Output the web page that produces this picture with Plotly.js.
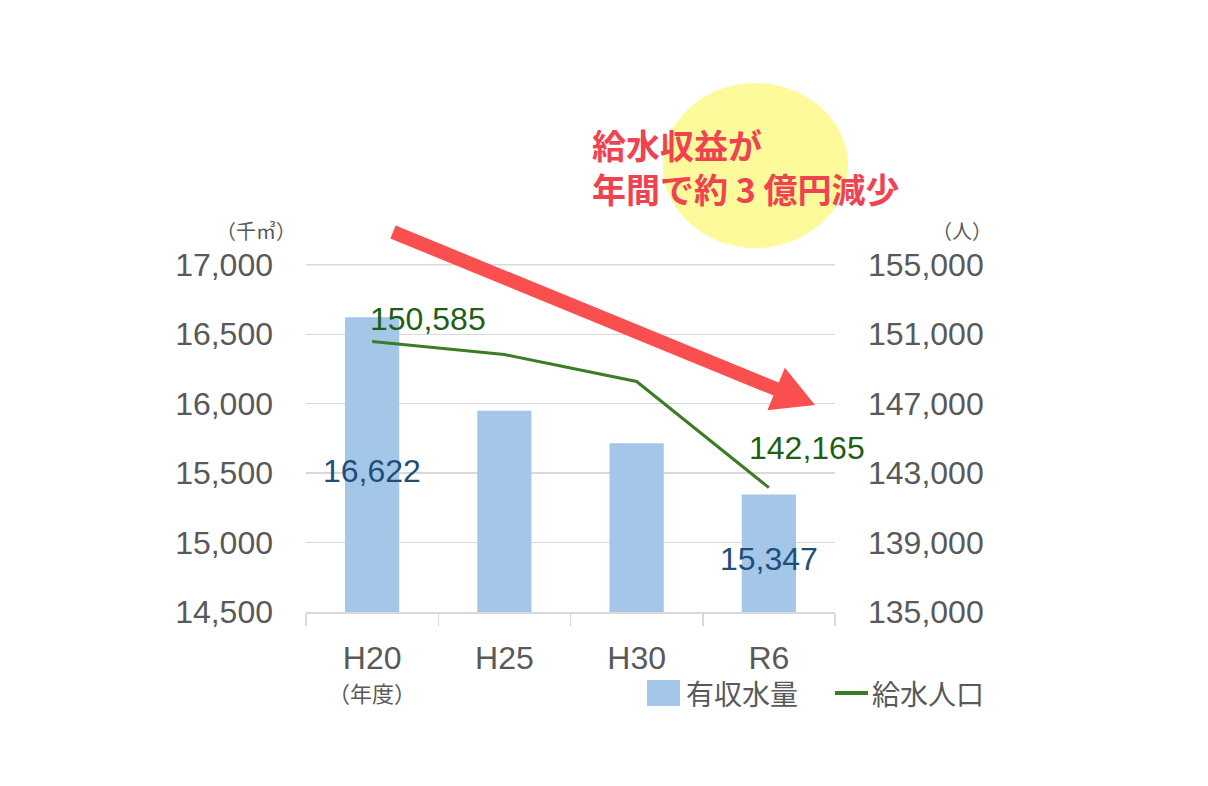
<!DOCTYPE html>
<html>
<head>
<meta charset="utf-8">
<script src="https://cdn.plot.ly/plotly-3.0.1.min.js"></script>
<style>
  html, body { margin: 0; padding: 0; background: #ffffff; }
  #chart { width: 1208px; height: 786px; }
</style>
</head>
<body>
<div id="chart"></div>
<script>
// data
var years = ['H20', 'H25', 'H30', 'R6'];
var waterVolume = [16622, 15950, 15715, 15347];      // 有収水量 (千㎥)
var population = [150585, 149830, 148280, 142165];   // 給水人口 (人)
var volumeName = '有収水量';
var popName = '給水人口';
var labelledVolume = [0, 3];
var labelledPop = [0, 3];

// plot area in pixels
var L = 306, R = 835, T = 264, B = 612;
function px(x) { return (x - L) / (R - L); }
function py(y) { return (B - y) / (B - T); }

var grey = '#595959';
var green = '#3a7d22';
var blueText = '#1f4e79';
var greenText = '#1e5f14';
var latin = 'Liberation Sans, Arial, sans-serif';
var cjk = 'Noto Sans CJK JP, sans-serif';

var traces = [
  { x: years, y: waterVolume, type: 'bar', name: volumeName, width: 0.41,
    marker: { color: '#a3c6e9' }, hoverinfo: 'skip' },
  { x: years, y: population, type: 'scatter', mode: 'lines', name: popName, yaxis: 'y2',
    line: { color: green, width: 3 }, hoverinfo: 'skip' }
];

var annotations = [];
labelledVolume.forEach(function (i) {
  annotations.push({ x: years[i], y: (waterVolume[i] + 14500) / 2, xref: 'x', yref: 'y',
    xanchor: 'center', yanchor: 'middle',
    text: waterVolume[i].toLocaleString('en-US'), showarrow: false, yshift: -6,
    font: { family: latin, size: 32, color: blueText } });
});
var popShift = [[56, 22], [38, 40]];
labelledPop.forEach(function (i, k) {
  annotations.push({ x: years[i], y: population[i], xref: 'x', yref: 'y2',
    xanchor: 'center', yanchor: 'middle',
    text: population[i].toLocaleString('en-US'), showarrow: false,
    xshift: popShift[k][0], yshift: popShift[k][1],
    font: { family: latin, size: 32, color: greenText } });
});

// units and notes
function note(x, y, text, size, xanchor) {
  return { x: px(x), y: py(y), xref: 'paper', yref: 'paper', xanchor: xanchor || 'center',
    yanchor: 'middle', text: text, showarrow: false,
    font: { family: cjk, size: size, color: grey } };
}
annotations.push(
  note(256, 230, '（千㎥）', 20),
  note(962, 230, '（人）', 20),
  note(372, 692, '（年度）', 22),
  note(684, 693, volumeName, 28, 'left'),
  note(870, 693, popName, 28, 'left'),
  { x: px(590), y: py(166), xref: 'paper', yref: 'paper', xanchor: 'left', yanchor: 'middle',
    align: 'left', text: '<b>給水収益が<br>年間で約 3 億円減少</b>', showarrow: false,
    font: { family: cjk, size: 34, color: '#ef4350' } }
);

// red arrow geometry
var tail = [393, 232], tip = [815, 405];
var dx = tip[0] - tail[0], dy = tip[1] - tail[1];
var len = Math.sqrt(dx * dx + dy * dy);
var ux = dx / len, uy = dy / len, nx = -uy, ny = ux;
var headLen = 42, headHalf = 23;
var bx = tip[0] - headLen * ux, by = tip[1] - headLen * uy;
var h1 = [bx + headHalf * nx, by + headHalf * ny], h2 = [bx - headHalf * nx, by - headHalf * ny];

var shapes = [
  { type: 'circle', xref: 'paper', yref: 'paper', layer: 'below',
    x0: px(663), x1: px(848), y0: py(248), y1: py(83),
    fillcolor: '#fdfa9b', line: { width: 0 } },
  // top gridline (plotly drops the one on the edge)
  { type: 'line', xref: 'paper', yref: 'y', layer: 'below', x0: 0, x1: 1, y0: 17000, y1: 17000,
    line: { color: '#d9d9d9', width: 1.5 } },
  { type: 'line', xref: 'paper', yref: 'paper',
    x0: px(tail[0]), y0: py(tail[1]), x1: px(bx + 2 * ux), y1: py(by + 2 * uy),
    line: { color: '#fa4f4f', width: 14 } },
  { type: 'path', xref: 'paper', yref: 'paper',
    path: 'M' + px(tip[0]) + ',' + py(tip[1]) + ' L' + px(h1[0]) + ',' + py(h1[1]) +
          ' L' + px(h2[0]) + ',' + py(h2[1]) + ' Z',
    fillcolor: '#fa4f4f', line: { width: 0 } },
  // legend markers
  { type: 'rect', xref: 'paper', yref: 'paper', x0: px(647), x1: px(680), y0: py(706), y1: py(680),
    fillcolor: '#a3c6e9', line: { width: 0 } },
  { type: 'line', xref: 'paper', yref: 'paper', x0: px(835), x1: px(868), y0: py(693), y1: py(693),
    line: { color: green, width: 4 } }
];

var layout = {
  width: 1208, height: 786,
  margin: { l: L, r: 1208 - R, t: T, b: 786 - B, pad: 0 },
  paper_bgcolor: '#ffffff', plot_bgcolor: 'rgba(0,0,0,0)',
  showlegend: false,
  font: { family: latin, color: grey },
  xaxis: { type: 'category', range: [-0.5, 3.5], autorange: false, fixedrange: true,
    showline: true, linecolor: '#d9d9d9', linewidth: 1.5,
    ticks: 'outside', tickson: 'boundaries', ticklen: 12, tickcolor: '#d9d9d9', tickwidth: 1.5,
    ticklabelstandoff: 17, tickfont: { family: latin, size: 32, color: grey } },
  yaxis: { range: [14500, 17006], autorange: false, tick0: 14500, dtick: 500, tickformat: ',d',
    showline: false, zeroline: false,
    gridcolor: '#d9d9d9', gridwidth: 1.5, ticks: '', ticklabelstandoff: 32,
    tickfont: { family: latin, size: 32, color: grey } },
  yaxis2: { overlaying: 'y', side: 'right', range: [135000, 155048], autorange: false,
    tick0: 135000, dtick: 4000, tickformat: ',d',
    showgrid: false, showline: false, zeroline: false, ticks: '', ticklabelstandoff: 32,
    tickfont: { family: latin, size: 32, color: grey } },
  annotations: annotations,
  shapes: shapes
};

Plotly.newPlot('chart', traces, layout, { displayModeBar: false, staticPlot: true });
</script>
</body>
</html>
